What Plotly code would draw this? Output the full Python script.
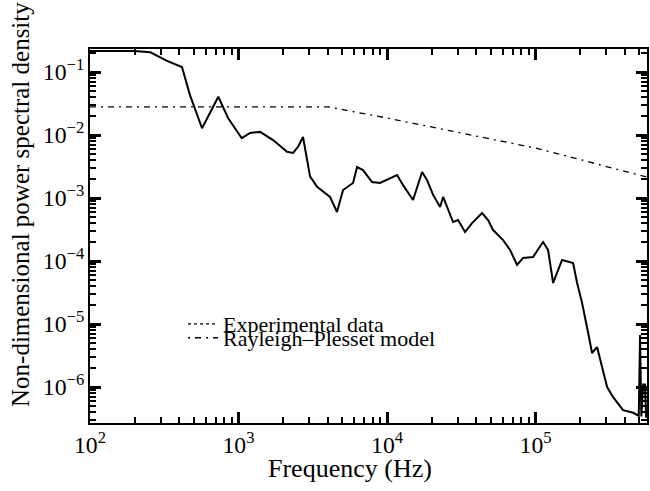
import plotly.graph_objects as go

# experimental spectrum (Hz, non-dimensional PSD)
exp_freq = [100, 150, 200, 255, 330, 416, 471, 568, 731, 850, 1051, 1196, 1396, 1708,
            2121, 2328, 2515, 2717, 3030, 3379, 4131, 4600, 5055, 5902, 6281, 6888,
            7925, 8970, 10000, 11680, 12820, 14960, 17210, 18580, 20420, 22760, 23840,
            25350, 27810, 30060, 33500, 37330, 43620, 47860, 51760, 60400, 67330, 75000,
            82400, 96200, 112200, 121300, 131200, 150700, 178900, 190300, 205600, 225900,
            239900, 259300, 280400, 303000, 332500, 388000, 453600, 495000, 505000,
            515000, 530000, 545000, 555000, 570000]
exp_psd = [0.215, 0.215, 0.215, 0.205, 0.15, 0.12, 0.043, 0.0128, 0.0405, 0.0186, 0.0089,
           0.0108, 0.0112, 0.0083, 0.0054, 0.0052, 0.0065, 0.0093, 0.0022, 0.0015, 0.00104,
           0.0006, 0.00134, 0.00173, 0.0031, 0.00278, 0.00179, 0.00173, 0.00193, 0.00232,
           0.0016, 0.00093, 0.00259, 0.00193, 0.00112, 0.00072, 0.00104, 0.00072, 0.000416,
           0.000448, 0.000288, 0.0004, 0.000578, 0.000448, 0.00031, 0.000215, 0.00015,
           0.0000865, 0.000112, 0.000116, 0.0002, 0.00015, 0.0000448, 0.000104, 0.0000929,
           0.0000448, 0.0000215, 0.0000072, 0.00000347, 0.00000431, 0.00000207, 0.000001,
           6.9e-7, 4.3e-7, 3.9e-7, 3.5e-7, 6.7e-6, 3.4e-7, 1.1e-6, 1.1e-6, 3.3e-7, 3.5e-7]

# Rayleigh-Plesset model
model_freq = [100, 4000, 10000, 100000, 560000]
model_psd = [0.028, 0.028, 0.0186, 0.0062, 0.00216]

FONT = "Liberation Serif"

fig = go.Figure()
fig.add_trace(go.Scatter(x=exp_freq, y=exp_psd, mode="lines", showlegend=False,
                         line=dict(color="black", width=2)))
fig.add_trace(go.Scatter(x=model_freq, y=model_psd, mode="lines", showlegend=False,
                         line=dict(color="black", width=1.3, dash="6px,5px,2px,5px")))
# legend samples
fig.add_trace(go.Scatter(x=[None], y=[None], mode="lines", name="Experimental data",
                         line=dict(color="black", width=1.2, dash="dot"), legend="legend"))
fig.add_trace(go.Scatter(x=[None], y=[None], mode="lines", name="Rayleigh\u2013Plesset model",
                         line=dict(color="black", width=1.5, dash="2px,5px,6px,5px"), legend="legend2"))

axis_common = dict(showline=True, linecolor="black", linewidth=2, mirror="allticks",
                   ticks="inside", ticklen=11, tickwidth=2.5, tickcolor="#000000",
                   showgrid=False, zeroline=False, exponentformat="power", dtick=1,
                   automargin=False, layer="above traces",
                   minor=dict(ticks="inside", ticklen=6, tickwidth=1.5, tickcolor="#000000",
                              showgrid=False),
                   tickfont=dict(family=FONT, size=19, color="black"))

fig.update_xaxes(type="log", range=[2, 5.75], **axis_common)
fig.update_yaxes(type="log", range=[-6.571, -0.635], **axis_common)

legend_common = dict(xref="paper", yref="paper", yanchor="middle", xanchor="left",
                     bgcolor="rgba(0,0,0,0)", borderwidth=0, itemwidth=30,
                     font=dict(family=FONT, size=22, color="black"))

fig.update_layout(
    template="simple_white",
    width=650, height=491,
    margin=dict(l=90, r=3, t=49, b=68),
    paper_bgcolor="white", plot_bgcolor="white",
    font=dict(family=FONT, color="black"),
    legend=dict(x=0.167, y=(423 - 324) / 374, **legend_common),
    legend2=dict(x=0.167, y=(423 - 338) / 374, **legend_common),
    annotations=[
        dict(text="Frequency (Hz)", xref="paper", yref="paper", x=(350 - 90) / 557,
             y=(423 - 468) / 374, xanchor="center", yanchor="middle", showarrow=False,
             font=dict(family=FONT, size=26, color="black")),
        dict(text="Non-dimensional power spectral density", xref="paper", yref="paper",
             x=(20 - 90) / 557, y=(423 - 205) / 374, xanchor="center", yanchor="middle",
             textangle=-90, showarrow=False, font=dict(family=FONT, size=25, color="black")),
    ],
)

fig.write_html("out.html", config={"displayModeBar": False},
               post_script="document.body.style.margin='0';")
